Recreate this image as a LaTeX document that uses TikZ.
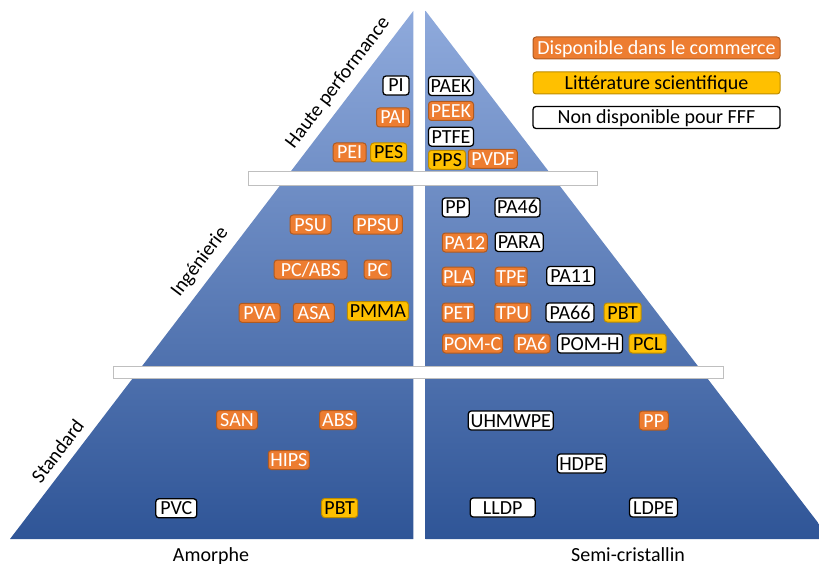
\documentclass[tikz,border=0pt]{standalone}
\usepackage{fontspec}
\setmainfont{Carlito}
\usepackage{tikz}

\definecolor{comfill}{RGB}{237,125,49}
\definecolor{comline}{RGB}{174,90,33}
\definecolor{litfill}{RGB}{255,192,0}
\definecolor{litline}{RGB}{188,140,0}
\definecolor{pyrtop}{RGB}{143,170,220}
\definecolor{pyrmid}{RGB}{68,114,196}
\definecolor{pyrbot}{RGB}{47,85,151}
\definecolor{barline}{RGB}{191,191,191}

\newcommand{\tagfont}{\fontsize{20}{24}\selectfont}

\tikzset{
  tag/.style={rounded corners=3pt, minimum height=19pt, inner xsep=1pt, inner ysep=0pt,
              text height=13pt, text depth=0pt, font=\tagfont, line width=1pt},
  com/.style={tag, fill=comfill, draw=comline, text=white},
  lit/.style={tag, fill=litfill, draw=litline, text=black},
  nofff/.style={tag, fill=white, draw=black, text=black, line width=1.3pt},
  legendbox/.style={minimum width=247pt, minimum height=22pt},
  tier/.style={font=\tagfont, inner sep=0pt, rotate=52.8},
  axislabel/.style={font=\tagfont, inner sep=0pt, anchor=base},
  gapbar/.style={fill=white, draw=barline, line width=1pt},
}

\begin{document}
\begin{tikzpicture}[x=1pt, y=-1pt]
\useasboundingbox (0, 0) rectangle (819, 564);

% Pyramid halves
\shade[top color=pyrtop, middle color=pyrmid, bottom color=pyrbot]
  (413.3, 11) -- (413.3, 539) -- (10, 539) -- cycle;
\shade[top color=pyrtop, middle color=pyrmid, bottom color=pyrbot]
  (425.7, 11) -- (819, 524) -- (819, 539) -- (425.7, 539) -- cycle;

% Separators between tiers
\draw[gapbar] (248, 172) rectangle (597, 186);
\draw[gapbar] (113, 366.5) rectangle (723, 378.5);

% Tier names
\node[tier] (haute) at (338, 83) {Haute performance};
\node[tier] (inge) at (200, 262) {Ingénierie};
\node[tier] (std) at (57.5, 451) {Standard};

% Legend
\node[com, legendbox] (legcom) at (656.5, 48) {Disponible dans le commerce};
\node[lit, legendbox] (leglit) at (656.5, 83) {Littérature scientifique};
\node[nofff, legendbox] (legno) at (656.5, 117.5) {Non disponible pour FFF};

% High performance, amorphous
\node[nofff, minimum width=26pt] (pi) at (396, 85.5) {PI};
\node[com, minimum width=33pt] (pai) at (393, 117.5) {PAI};
\node[com, minimum width=33pt] (pei) at (349.7, 152.5) {PEI};
\node[lit, minimum width=36pt] (pes) at (388.7, 152.5) {PES};

% High performance, semi-crystalline
\node[nofff, minimum width=45pt] (paek) at (451, 86) {PAEK};
\node[com, minimum width=45pt] (peek) at (451, 111) {PEEK};
\node[nofff, minimum width=45pt] (ptfe) at (451, 136.7) {PTFE};
\node[lit, minimum width=37pt] (pps) at (447, 159.8) {PPS};
\node[com, minimum width=49pt] (pvdf) at (492.8, 158.8) {PVDF};

% Engineering, amorphous
\node[com, minimum width=41pt] (psu) at (310.5, 224.5) {PSU};
\node[com, minimum width=49pt] (ppsu) at (377.8, 224.5) {PPSU};
\node[com, minimum width=73pt] (pcabs) at (310.7, 269.5) {PC/ABS};
\node[com, minimum width=27pt] (pc) at (377.7, 269.5) {PC};
\node[com, minimum width=41pt] (pva) at (259.5, 312.8) {PVA};
\node[com, minimum width=41pt] (asa) at (313.8, 312.8) {ASA};
\node[lit, minimum width=61pt] (pmma) at (377.8, 311) {PMMA};

% Engineering, semi-crystalline
\node[nofff, minimum width=27pt] (ppeng) at (455.7, 207.5) {PP};
\node[nofff, minimum width=45pt] (pa46) at (517.5, 207.5) {PA46};
\node[com, minimum width=45pt] (pa12) at (464.8, 242.5) {PA12};
\node[nofff, minimum width=48pt] (para) at (519.2, 242) {PARA};
\node[com, minimum width=32pt] (pla) at (458.2, 276.7) {PLA};
\node[com, minimum width=32pt] (tpe) at (511.2, 276.7) {TPE};
\node[nofff, minimum width=48pt] (pa11) at (570.8, 276) {PA11};
\node[com, minimum width=32pt] (pet) at (458.2, 312.5) {PET};
\node[com, minimum width=36pt] (tpu) at (512.8, 312.5) {TPU};
\node[nofff, minimum width=48pt] (pa66) at (570, 312.5) {PA66};
\node[lit, minimum width=37pt] (pbteng) at (622.7, 312.5) {PBT};
\node[com, minimum width=60pt] (pomc) at (472.5, 343.5) {POM-C};
\node[com, minimum width=36pt] (pa6) at (532, 343.5) {PA6};
\node[nofff, minimum width=65pt] (pomh) at (590, 343.5) {POM-H};
\node[lit, minimum width=37pt] (pcl) at (647.7, 343.5) {PCL};

% Standard, amorphous
\node[com, minimum width=41pt] (san) at (237, 420) {SAN};
\node[com, minimum width=37pt] (abs) at (338, 420) {ABS};
\node[com, minimum width=41pt] (hips) at (288.8, 460) {HIPS};
\node[nofff, minimum width=41pt] (pvc) at (176.3, 508.3) {PVC};
\node[lit, minimum width=36pt] (pbtstd) at (339.7, 508) {PBT};

% Standard, semi-crystalline
\node[nofff, minimum width=85pt] (uhmwpe) at (510.8, 420.5) {UHMWPE};
\node[com, minimum width=29pt] (ppstd) at (653.8, 420.5) {PP};
\node[nofff, minimum width=49pt] (hdpe) at (581.7, 463.5) {HDPE};
\node[nofff, minimum width=65pt] (lldp) at (502.7, 507.5) {LLDP};
\node[nofff, minimum width=48pt] (ldpe) at (653.5, 507.5) {LDPE};

% Structure classes
\node[axislabel] (amorphe) at (211, 561) {Amorphe};
\node[axislabel] (semicr) at (628, 561) {Semi-cristallin};

\end{tikzpicture}
\end{document}
